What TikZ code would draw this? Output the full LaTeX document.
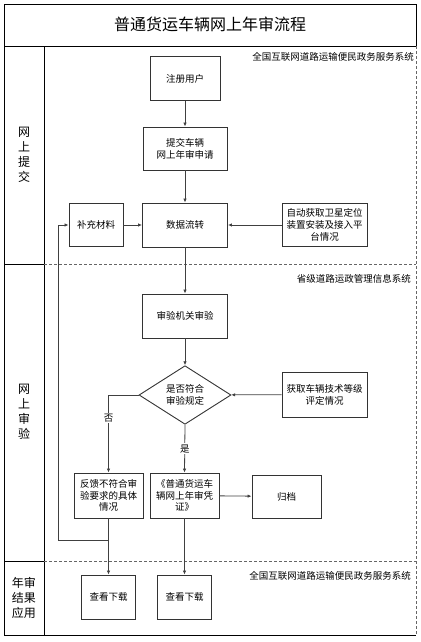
\documentclass[tikz,border=0pt]{standalone}
\usepackage{fontspec}
\setmainfont{Noto Sans CJK SC}
\usetikzlibrary{arrows.meta,shapes.geometric}

\begin{document}
\begin{tikzpicture}[x=1pt, y=-1pt,
      box/.style={draw=black!80, line width=0.9pt, align=center, inner sep=0pt,
        font=\fontsize{9.5}{11.8}\selectfont},
      arr/.style={draw=black!75, line width=0.8pt, -{Latex[length=4pt,width=3.5pt]}},
      lane/.style={align=center, font=\fontsize{12}{15}\selectfont},
      sys/.style={anchor=east, inner sep=0pt, font=\fontsize{9.5}{11}\selectfont},
      yesno/.style={fill=white, inner sep=1pt, font=\fontsize{9.5}{11}\selectfont},
      sep/.style={draw=black!60, line width=0.7pt, dash pattern=on 3pt off 2pt}]
      \useasboundingbox (0,0) rectangle (420,642);
      \draw[line width=0.9pt] (4,4) rectangle (416,46);
      \node (title) at (210,24) {\fontsize{16}{18}\selectfont 普通货运车辆网上年审流程};
      \draw[line width=0.9pt] (4,46) rectangle (44,635);
      \draw[line width=0.9pt] (4,264) -- (44,264);
      \draw[line width=0.9pt] (4,561) -- (44,561);
      \draw[line width=0.9pt] (44,635) -- (416,635);
      \draw[sep] (416,46) -- (416,635);
      \draw[sep] (44,264) -- (416,264);
      \draw[sep] (44,561) -- (416,561);
      \node[lane] (lane1) at (24,155) {网\\上\\提\\交};
      \node[lane] (lane2) at (24,412) {网\\上\\审\\验};
      \node[lane] (lane3) at (24,598) {年审\\结果\\应用};
      \node[sys] (sys1) at (414,57) {全国互联网道路运输便民政务服务系统};
      \node[sys] (sys2) at (411,279) {省级道路运政管理信息系统};
      \node[sys] (sys3) at (411,576) {全国互联网道路运输便民政务服务系统};
      \node[box, minimum width=70, minimum height=44] (reg) at (185,78.5) {注册用户};
      \node[box, minimum width=84, minimum height=43] (apply) at (185,148.5) {提交车辆\\网上年审申请};
      \node[box, minimum width=85, minimum height=44] (flow) at (185,225) {数据流转};
      \node[box, minimum width=54, minimum height=43] (supp) at (96,225) {补充材料};
      \node[box, minimum width=85, minimum height=43] (gps) at (324.5,225) {自动获取卫星定位\\装置安装及接入平\\台情况};
      \node[box, minimum width=85, minimum height=44] (check) at (185,316) {审验机关审验};
      \node[box, diamond, minimum width=92, minimum height=44] (dec) at (185,395) {是否符合\\审验规定};
      \node[box, minimum width=85, minimum height=45] (tech) at (324.5,394.5) {获取车辆技术等级\\评定情况};
      \node[box, minimum width=69, minimum height=45] (fb) at (108.5,495.5) {反馈不符合审\\验要求的具体\\情况};
      \node[box, minimum width=69, minimum height=45] (cert) at (184.5,495.5) {《普通货运车\\辆网上年审凭\\证》};
      \node[box, minimum width=69, minimum height=43] (arch) at (286.5,496.5) {归档};
      \node[box, minimum width=54, minimum height=44] (dl1) at (108.5,597) {查看下载};
      \node[box, minimum width=54, minimum height=44] (dl2) at (184.5,597) {查看下载};
      \coordinate (loop) at (58,540);
      \draw[arr] (reg) -- (apply);
      \draw[arr] (apply) -- (flow);
      \draw[arr] (supp) -- (flow);
      \draw[arr] (gps) -- (flow);
      \draw[arr] (flow) -- (check);
      \draw[arr] (check) -- (dec);
      \draw[arr] (tech) -- (dec);
      \draw[arr] (dec.west) -| node[yesno, pos=0.65] {否} (fb.north);
      \draw[arr] (dec.south) -- node[yesno, pos=0.5] {是} (cert.north);
      \draw[arr] (cert) -- (arch);
      \draw[arr] (fb) -- (dl1);
      \draw[arr] (cert) -- (dl2);
      \draw[arr] (fb.south) |- (loop) |- (supp.west);
    \end{tikzpicture}
\end{document}
